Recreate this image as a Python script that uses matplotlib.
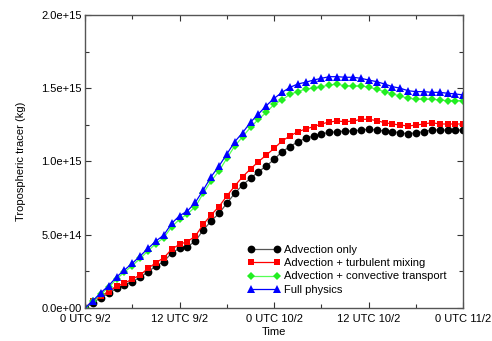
import numpy as np
import matplotlib
matplotlib.use('Agg')
import matplotlib.pyplot as plt
from matplotlib.ticker import FuncFormatter, MultipleLocator

plt.rcParams['font.family'] = ['Liberation Sans', 'DejaVu Sans']

# Hours since 0 UTC 9/2, hourly output
hours = np.arange(49)

# Tropospheric tracer mass (units of 1e15 kg)
adv_only = [0.000, 0.036, 0.070, 0.100, 0.134, 0.155, 0.180, 0.209, 0.248, 0.287,
            0.316, 0.377, 0.407, 0.418, 0.457, 0.532, 0.594, 0.646, 0.715, 0.783,
            0.840, 0.885, 0.930, 0.969, 1.015, 1.067, 1.101, 1.135, 1.158, 1.174,
            1.188, 1.199, 1.203, 1.208, 1.208, 1.215, 1.220, 1.215, 1.208, 1.203,
            1.197, 1.188, 1.197, 1.203, 1.215, 1.215, 1.215, 1.215, 1.215]
adv_turb = [0.000, 0.050, 0.082, 0.111, 0.150, 0.169, 0.198, 0.225, 0.271, 0.309,
            0.343, 0.401, 0.435, 0.453, 0.491, 0.571, 0.635, 0.692, 0.765, 0.833,
            0.896, 0.949, 0.999, 1.044, 1.090, 1.140, 1.174, 1.203, 1.222, 1.238,
            1.256, 1.270, 1.276, 1.272, 1.276, 1.288, 1.288, 1.279, 1.265, 1.256,
            1.249, 1.242, 1.249, 1.256, 1.265, 1.256, 1.256, 1.256, 1.256]
adv_conv = [0.000, 0.045, 0.095, 0.140, 0.198, 0.245, 0.290, 0.338, 0.390, 0.440,
            0.480, 0.555, 0.605, 0.642, 0.691, 0.783, 0.867, 0.935, 1.022, 1.106,
            1.169, 1.233, 1.288, 1.335, 1.390, 1.420, 1.459, 1.477, 1.495, 1.500,
            1.511, 1.522, 1.527, 1.517, 1.515, 1.515, 1.508, 1.493, 1.477, 1.461,
            1.447, 1.431, 1.425, 1.425, 1.425, 1.420, 1.415, 1.415, 1.415]
full_phys = [0.000, 0.050, 0.104, 0.152, 0.212, 0.259, 0.305, 0.355, 0.407, 0.457,
             0.498, 0.578, 0.630, 0.662, 0.721, 0.805, 0.896, 0.969, 1.051, 1.135,
             1.197, 1.268, 1.324, 1.381, 1.431, 1.472, 1.506, 1.529, 1.541, 1.556,
             1.568, 1.579, 1.579, 1.575, 1.575, 1.568, 1.556, 1.545, 1.529, 1.511,
             1.500, 1.483, 1.477, 1.477, 1.472, 1.472, 1.466, 1.461, 1.454]

tick_hours = [0, 12, 24, 36, 48]
tick_labels = ['0 UTC 9/2', '12 UTC 9/2', '0 UTC 10/2', '12 UTC 10/2', '0 UTC 11/2']

fig = plt.figure(figsize=(4.92, 3.41), dpi=100)
ax = fig.add_axes([0.1728, 0.0968, 0.7689, 0.8592])

# series: data, label, line colour, marker, marker colour, marker size
series = [
    (adv_only, 'Advection only', '#555555', 'o', '#000000', 5.6),
    (adv_turb, 'Advection + turbulent mixing', '#ff0000', 's', '#ff0000', 5.0),
    (adv_conv, 'Advection + convective transport', '#55ff55', 'D', '#22ee22', 4.4),
    (full_phys, 'Full physics', '#0000ff', '^', '#0000ff', 6.0),
]
for vals, lab, lc, mk, mc, ms in series:
    ax.plot(hours, np.array(vals) * 1e15, color=lc, lw=0.9, marker=mk,
            ms=ms, mfc=mc, mec=mc, mew=0, label=lab)

ax.set_xlim(0, 48)
ax.set_ylim(0, 2e15)
ax.set_xticks(tick_hours)
ax.set_xticklabels(tick_labels)
ax.xaxis.set_minor_locator(MultipleLocator(6))
ax.yaxis.set_major_locator(MultipleLocator(5e14))
ax.yaxis.set_minor_locator(MultipleLocator(2.5e14))
ax.yaxis.set_major_formatter(FuncFormatter(lambda v, p: '%.1e' % v))
ax.yaxis.get_offset_text().set_visible(False)

ax.tick_params(which='both', direction='in', top=True, right=True,
               labelsize=8, color='#333333', width=0.8)
ax.tick_params(which='major', length=4)
ax.tick_params(which='minor', length=3)
ax.tick_params(axis='y', which='major', pad=2.5)
ax.tick_params(axis='x', which='major', pad=4.5)
for sp in ax.spines.values():
    sp.set_color('#555555')
    sp.set_linewidth(1.0)

ax.set_xlabel('Time', fontsize=8, labelpad=2)
ax.set_ylabel('Tropospheric tracer (kg)', fontsize=8, labelpad=11)

leg = ax.legend(loc='lower left', bbox_to_anchor=(0.43, 0.045), numpoints=2,
                frameon=False, fontsize=8, handlelength=2.9, handletextpad=0.4,
                labelspacing=0.3, borderaxespad=0, borderpad=0)

fig.savefig('out.png', dpi=100)
